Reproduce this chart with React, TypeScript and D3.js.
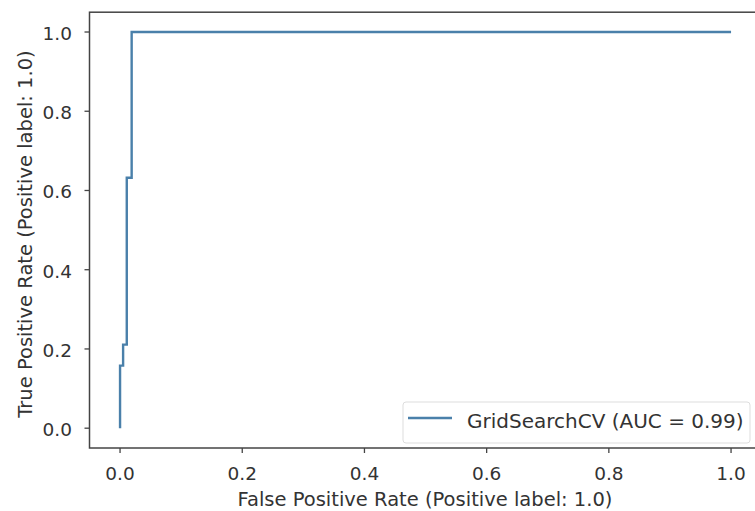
import React from "react";
import * as d3 from "d3";

const fpr = [0, 0, 0.005, 0.005, 0.011, 0.011, 0.019, 0.019, 1.0];
const tpr = [0, 0.158, 0.158, 0.211, 0.211, 0.632, 0.632, 1.0, 1.0];
const xTicks = [0, 0.2, 0.4, 0.6, 0.8, 1.0];
const yTicks = [0, 0.2, 0.4, 0.6, 0.8, 1.0];
const seriesLabel = "GridSearchCV (AUC = 0.99)";
const xLabel = "False Positive Rate (Positive label: 1.0)";
const yLabel = "True Positive Rate (Positive label: 1.0)";

const W = 755;
const H = 511;
const left = 89.5, right = 761.6, top = 12.2, bottom = 448;
const FONT = "DejaVu Sans, sans-serif";
const TXT = "#333";
const LINE = "#4a80aa";

export default function App() {
  const x = d3.scaleLinear().domain([-0.05, 1.05]).range([left, right]);
  const y = d3.scaleLinear().domain([-0.05, 1.05]).range([bottom, top]);
  const pts = fpr.map((f, i) => [f, tpr[i]] as [number, number]);
  const line = d3.line<[number, number]>().x((d) => x(d[0])).y((d) => y(d[1]));
  return (
    <svg width={W} height={H} style={{ position: "fixed", left: 0, top: 0 }} fontFamily={FONT}>
      <rect width={W} height={H} fill="#fff" />
      <path d={line(pts) ?? ""} fill="none" stroke={LINE} strokeWidth={2.4} />
      <rect x={left} y={top} width={right - left} height={bottom - top} fill="none" stroke="#444" strokeWidth={1.5} />
      {xTicks.map((t) => (
        <g key={"x" + t}>
          <line x1={x(t)} x2={x(t)} y1={bottom} y2={bottom + 5} stroke="#444" strokeWidth={1.3} />
          <text x={x(t)} y={480} textAnchor="middle" fontSize={18.5} fill={TXT}>
            {t.toFixed(1)}
          </text>
        </g>
      ))}
      {yTicks.map((t) => (
        <g key={"y" + t}>
          <line x1={left - 5} x2={left} y1={y(t)} y2={y(t)} stroke="#444" strokeWidth={1.3} />
          <text x={72} y={y(t) + 8} textAnchor="end" fontSize={18.5} fill={TXT}>
            {t.toFixed(1)}
          </text>
        </g>
      ))}
      <text x={425} y={506} textAnchor="middle" fontSize={19.5} fill={TXT}>
        {xLabel}
      </text>
      <text transform={`translate(32,234) rotate(-90)`} textAnchor="middle" fontSize={19.5} fill={TXT}>
        {yLabel}
      </text>
      <rect x={403} y={402} width={347} height={41} rx={3} fill="#fff" stroke="#ddd" strokeWidth={1} />
      <line x1={408} x2={452} y1={418} y2={418} stroke={LINE} strokeWidth={2.4} />
      <text x={467} y={428} fontSize={20} fill={TXT}>
        {seriesLabel}
      </text>
    </svg>
  );
}
